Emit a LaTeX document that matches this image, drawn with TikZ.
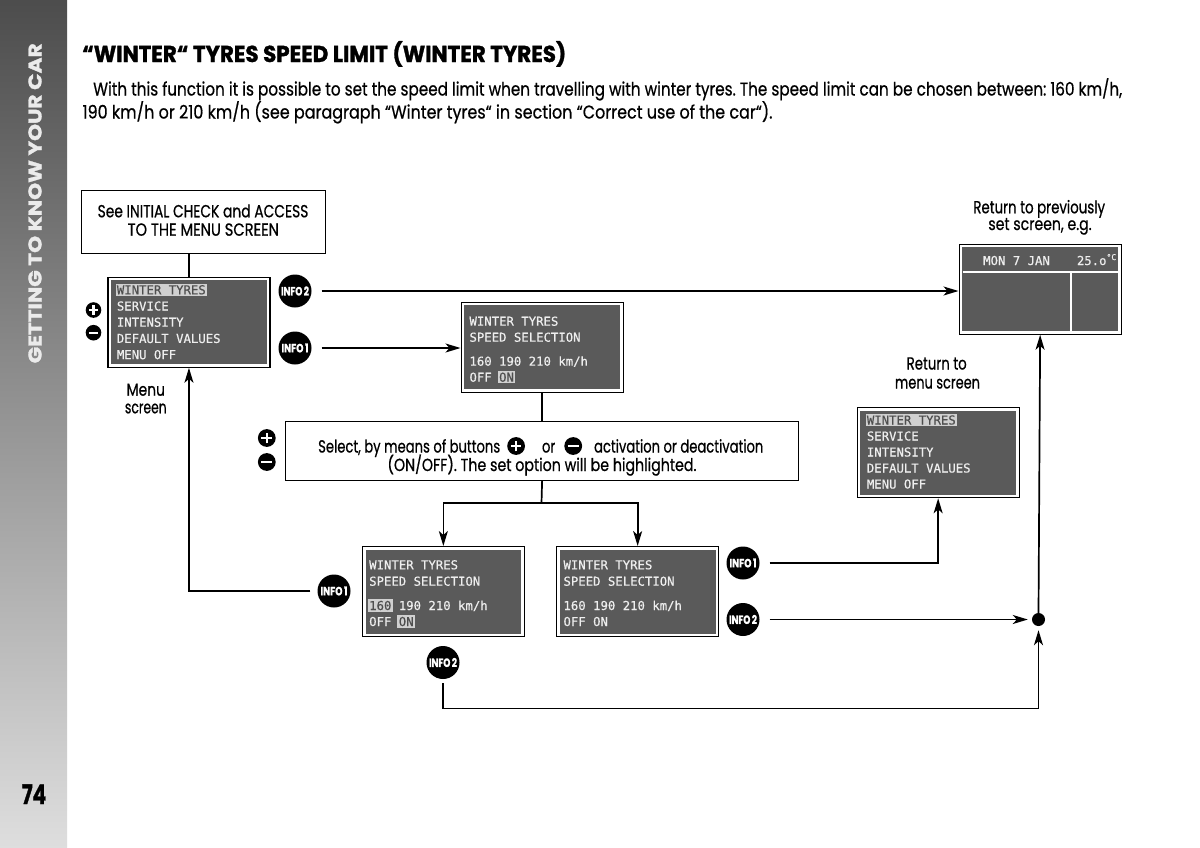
\documentclass[tikz,border=0pt]{standalone}
\usepackage{fontspec}
\usepackage{graphicx}
\usetikzlibrary{arrows.meta,calc}
\newfontfamily\bodyfont{Poppins}[FakeBold=0.7]
\newfontfamily\heavyfont{Poppins}[FakeBold=1.4]
\newfontfamily\lcdfont{DejaVu Sans Mono}[FakeBold=0.5]
\definecolor{lcdbg}{HTML}{5A5A5A}
\definecolor{lcdtxt}{HTML}{EEEEEE}
\definecolor{lcdhl}{HTML}{D0D0D0}
\definecolor{lcdhltxt}{HTML}{4E4E4E}
\frenchspacing
\newsavebox\fitbox
\newlength\fitlen
\newcommand\fitto[2]{\sbox\fitbox{#2}\setlength\fitlen{\wd\fitbox}\pgfmathsetmacro\fitsx{#1/\fitlen}\scalebox{\fitsx}[1]{\usebox\fitbox}}
\newcommand\hl[1]{{\setlength\fboxsep{1.4pt}\kern-1.4pt\colorbox{lcdhl}{\textcolor{lcdhltxt}{#1}}\kern-1.4pt}}
\newcommand\plusicon[1][8.9]{\tikz[x=1pt,y=1pt,baseline=-6.5pt]{\fill[black] (0,0) circle (#1);\draw[white,line width=0.28*#1,line cap=butt] (-0.6*#1,0)--(0.6*#1,0) (0,-0.6*#1)--(0,0.6*#1);}}
\newcommand\minusicon[1][8.9]{\tikz[x=1pt,y=1pt,baseline=-6.5pt]{\fill[black] (0,0) circle (#1);\draw[white,line width=0.28*#1,line cap=butt] (-0.6*#1,0)--(0.6*#1,0);}}
\newcommand\lcdfill[1]{\fill[lcdbg] ($(#1.north west)+(3.8,3.8)$) rectangle ($(#1.south east)+(-3.8,-3.8)$);}
\newcommand\selline{\sbox\fitbox{Select, by means of buttons}\setlength\fitlen{\wd\fitbox}\pgfmathsetmacro\selsx{182/\fitlen}\scalebox{\selsx}[1]{\usebox\fitbox}\hspace{7pt}\plusicon\hspace{17pt}\scalebox{\selsx}[1]{or}\hspace{9pt}\minusicon\hspace{12pt}\scalebox{\selsx}[1]{activation or deactivation}}
\begin{document}
\begin{tikzpicture}[x=1pt,y=-1pt,
  ln/.style={line width=1.7pt},
  arr/.style={ln,-{Stealth[length=15pt,width=9pt,inset=4pt]}},
  para/.style={font=\bodyfont\fontsize{18.5}{20}\selectfont,inner sep=0,anchor=base west},
  txt/.style={font=\bodyfont\fontsize{17.5}{19}\selectfont,inner sep=0,anchor=base},
  lcd/.style={font=\lcdfont\fontsize{12.3}{14}\selectfont,text=lcdtxt,inner sep=0,anchor=base west},
  info/.style={circle,fill=black,text=white,minimum size=33pt,inner sep=0,font=\heavyfont\bfseries\fontsize{12}{12}\selectfont},
  scr/.style={draw=black,line width=1.3pt,fill=white,minimum width=162pt,minimum height=90pt,inner sep=0,anchor=north west},
  boxed/.style={draw=black,line width=1.2pt,inner sep=0,anchor=north west},
  btn/.style={inner sep=0}]
\useasboundingbox (0,0) rectangle (1200,847);
\fill[white] (0,0) rectangle (1200,847);
\shade[top color=black!70,bottom color=black!13] (0,0) rectangle (67,847);
\node[rotate=90,text=black!8,inner sep=0,font=\heavyfont\bfseries\fontsize{18.5}{20}\selectfont] (side) at (35,203.3) {\fitto{320}{GETTING TO KNOW YOUR CAR}};
\node[para,font=\heavyfont\bfseries\fontsize{27}{27}\selectfont] (pnum) at (21.7,804) {\fitto{24.3}{74}};

% title and paragraph
\node[para,font=\heavyfont\bfseries\fontsize{23}{25}\selectfont] (title) at (82,62) {\fitto{484}{“WINTER“ TYRES SPEED LIMIT (WINTER TYRES)}};
\node[para] (par1) at (93,95.5) {\fitto{1029}{With this function it is possible to set the speed limit when travelling with winter tyres. The speed limit can be chosen between: 160 km/h,}};
\node[para] (par2) at (82.3,118.5) {\fitto{690}{190 km/h or 210 km/h (see paragraph “Winter tyres“ in section “Correct use of the car“).}};

% boxes
\node[boxed,minimum width=244pt,minimum height=62.7pt] (see) at (81,190) {};
\node[txt] (see1) at (203,217.3) {\fitto{210.7}{See INITIAL CHECK and ACCESS}};
\node[txt] (see2) at (203.3,235.7) {\fitto{151.3}{TO THE MENU SCREEN}};

\node[boxed,minimum width=513pt,minimum height=59pt] (sel) at (285,421) {};
\node[para,font=\bodyfont\fontsize{17.5}{19}\selectfont] (sel1) at (318,452.5) {\selline};
\node[txt] (sel2) at (542,471) {\fitto{309}{(ON/OFF). The set option will be highlighted.}};

% labels
\node[txt] (menu1) at (145.8,395.7) {\fitto{38.3}{Menu}};
\node[txt] (menu2) at (145.8,413.3) {\fitto{41.7}{screen}};
\node[txt] (ret1) at (1039.2,213.3) {\fitto{131.7}{Return to previously}};
\node[txt] (ret2) at (1040,230) {\fitto{103.3}{set screen, e.g.}};
\node[txt] (rm1) at (936.7,369.5) {\fitto{60}{Return to}};
\node[txt] (rm2) at (937.5,388.5) {\fitto{85}{menu screen}};

% buttons
\node[btn] (p1) at (93.5,310) {\plusicon[7.8]};
\node[btn] (m1) at (93.5,332.7) {\minusicon[7.8]};
\node[btn] (p2) at (266.8,438) {\plusicon};
\node[btn] (m2) at (266.8,462) {\minusicon};

% screens
\node[scr] (s1) at (107.3,276.5) {};
\lcdfill{s1}
\foreach \t [count=\i] in {{\hl{WINTER TYRES}},SERVICE,INTENSITY,DEFAULT VALUES,MENU OFF}
  \node[lcd] (s1t\i) at (116.7,{294.3+16.2*(\i-1)}) {\t};

\node[scr] (s5) at (856.5,407) {};
\lcdfill{s5}
\foreach \t [count=\i] in {{\hl{WINTER TYRES}},SERVICE,INTENSITY,DEFAULT VALUES,MENU OFF}
  \node[lcd] (s5t\i) at (866.7,{424.5+16*(\i-1)}) {\t};

\node[scr] (s2) at (460.5,301.5) {};
\lcdfill{s2}
\node[lcd] (s2a) at (469.3,325.7) {WINTER TYRES};
\node[lcd] (s2b) at (469.3,341.7) {SPEED SELECTION};
\node[lcd] (s2c) at (469.3,365.7) {160 190 210 km/h};
\node[lcd] (s2d) at (469.3,381.7) {OFF \hl{ON}};

\node[scr] (s3) at (361.7,546) {};
\lcdfill{s3}
\node[lcd] (s3a) at (369,569.3) {WINTER TYRES};
\node[lcd] (s3b) at (369,585.7) {SPEED SELECTION};
\node[lcd] (s3c) at (369,610) {\hl{160} 190 210 km/h};
\node[lcd] (s3d) at (369,626) {OFF \hl{ON}};

\node[scr] (s4) at (556,546) {};
\lcdfill{s4}
\node[lcd] (s4a) at (563.3,569.3) {WINTER TYRES};
\node[lcd] (s4b) at (563.3,585.7) {SPEED SELECTION};
\node[lcd] (s4c) at (563.3,610) {160 190 210 km/h};
\node[lcd] (s4d) at (563.3,626) {OFF ON};

\node[scr] (sR) at (958.5,243.5) {};
\lcdfill{sR}
\draw[white,line width=1.6pt] ($(sR.north west)+(4,28.5)$) -- ($(sR.north east)+(-4,28.5)$);
\draw[white,line width=1.6pt] ($(sR.north west)+(112.5,28.5)$) -- ($(sR.south west)+(112.5,-4)$);
\node[lcd] (sRa) at (983,265) {MON 7 JAN};
\node[lcd] (sRb) at (1076.7,265) {25.o{\fontsize{8}{8}\selectfont\raisebox{5pt}{°C}}};

% info badges
\node[info] (i2a) at (295,291) {\fitto{28}{INFO\,2}};
\node[info] (i1a) at (295,348) {\fitto{27}{INFO\,1}};
\node[info] (i1b) at (334,591) {\fitto{27}{INFO\,1}};
\node[info] (i2b) at (443,662.5) {\fitto{28}{INFO\,2}};
\node[info] (i1c) at (743,563) {\fitto{27}{INFO\,1}};
\node[info] (i2c) at (743,619.5) {\fitto{28}{INFO\,2}};
\node[circle,fill=black,minimum size=13pt,inner sep=0] (dot) at (1038.5,619.5) {};

% connectors
\draw[ln] (s1.north) -- (s1.north |- see.south);
\draw[arr,shorten <=10pt] (i2a.east) -- (i2a.east -| sR.west);
\draw[arr,shorten <=10pt] (i1a.east) -- (i1a.east -| s2.west);
\draw[ln] (s2.south) -- (s2.south |- sel.north);
\coordinate (split) at (541.5,503);
\draw[ln] (sel.south) -- (split);
\draw[arr] (split) -| (s3.north);
\draw[arr] (split) -| (s4.north);
\draw[arr,shorten <=7pt] (i1b.west) -| (s1.south);
\coordinate (bl) at (1038.5,708.5);
\draw[arr,shorten <=4pt,shorten >=4pt] (i2b.south) |- (bl) -- (dot.south);
\draw[arr,shorten <=10pt] (i1c.east) -| (s5.south);
\draw[arr,shorten <=10pt,shorten >=4pt] (i2c.east) -- (dot.west);
\draw[arr] (dot.north) -- (sR.south);
\end{tikzpicture}
\end{document}
